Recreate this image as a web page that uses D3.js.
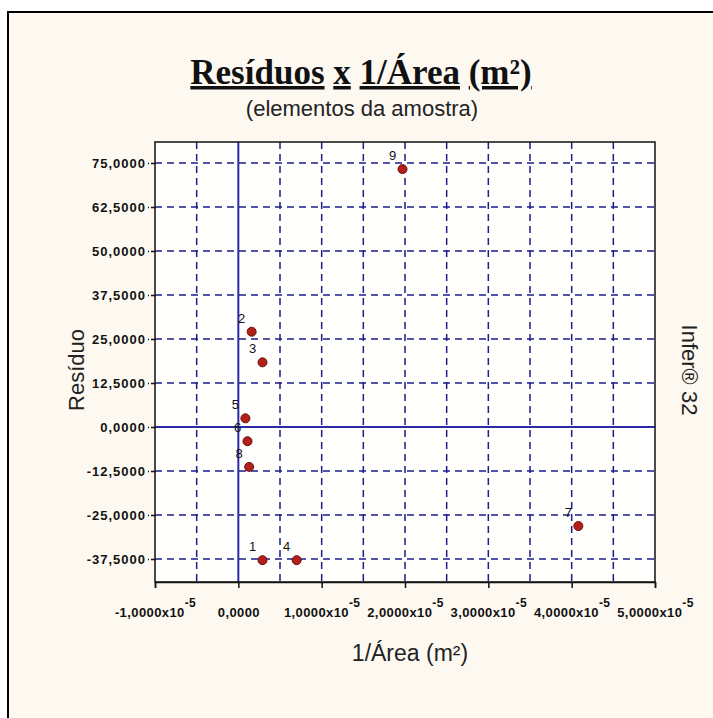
<!DOCTYPE html>
<html>
<head>
<meta charset="utf-8">
<script src="https://cdn.jsdelivr.net/npm/d3@7"></script>
<style>
  body { margin: 0; background: #fff; }
  svg { display: block; }
</style>
</head>
<body>
<div id="viz"></div>
<script>
// sample elements (number, 1/area, residual)
var elementos = [1, 2, 3, 4, 5, 6, 7, 8, 9];
var invArea = [0.29e-5, 0.16e-5, 0.29e-5, 0.70e-5, 0.085e-5, 0.11e-5, 4.08e-5, 0.13e-5, 1.97e-5];
var residuos = [-37.8, 27.1, 18.4, -37.8, 2.5, -4.0, -28.1, -11.3, 73.3];

var yTicks = [-37.5, -25, -12.5, 0, 12.5, 25, 37.5, 50, 62.5, 75];
var xTicks = [-1e-5, 0, 1e-5, 2e-5, 3e-5, 4e-5, 5e-5];
var xGrid = [-0.5e-5, 0, 0.5e-5, 1e-5, 1.5e-5, 2e-5, 2.5e-5, 3e-5, 3.5e-5, 4e-5, 4.5e-5];

var W = 713, H = 718;
var pL = 155, pR = 655, pT = 142, pB = 582;

var svg = d3.select("#viz").append("svg")
  .attr("width", W)
  .attr("height", H);

// outer frame
svg.append("rect")
  .attr("x", 8).attr("y", 12)
  .attr("width", 720).attr("height", 720)
  .attr("fill", "#fdf9f1")
  .attr("stroke", "#000")
  .attr("stroke-width", 2);

var x = d3.scaleLinear().domain([-1e-5, 5e-5]).range([pL, pR]);
var y = d3.scaleLinear().domain([-44, 81]).range([pB, pT]);

// plot area
svg.append("rect")
  .attr("x", pL).attr("y", pT)
  .attr("width", pR - pL).attr("height", pB - pT)
  .attr("fill", "#fffffd");

var navy = "#1c1c8a";

// dashed grid
svg.append("g").selectAll("line")
  .data(yTicks.filter(function(d) { return d !== 0; }))
  .join("line")
  .attr("x1", pL).attr("x2", pR)
  .attr("y1", d => y(d)).attr("y2", d => y(d))
  .attr("stroke", navy)
  .attr("stroke-width", 1.5)
  .attr("stroke-dasharray", "7,5");

svg.append("g").selectAll("line")
  .data(xGrid.filter(function(d) { return d !== 0; }))
  .join("line")
  .attr("x1", d => x(d)).attr("x2", d => x(d))
  .attr("y1", pT).attr("y2", pB)
  .attr("stroke", navy)
  .attr("stroke-width", 1.5)
  .attr("stroke-dasharray", "7,5");

// zero lines
svg.append("line")
  .attr("x1", pL).attr("x2", pR)
  .attr("y1", y(0)).attr("y2", y(0))
  .attr("stroke", "#2a2aa8").attr("stroke-width", 2);
svg.append("line")
  .attr("x1", x(0)).attr("x2", x(0))
  .attr("y1", pT).attr("y2", pB)
  .attr("stroke", "#2a2aa8").attr("stroke-width", 2);

// plot border
svg.append("rect")
  .attr("x", pL).attr("y", pT)
  .attr("width", pR - pL).attr("height", pB - pT)
  .attr("fill", "none")
  .attr("stroke", "#111")
  .attr("stroke-width", 1.5);

function num(v) {
  return d3.format(".4f")(v).replace(".", ",").replace("−", "-");
}

// y axis
var yAxis = svg.append("g")
  .attr("transform", "translate(" + pL + ",0)")
  .call(d3.axisLeft(y).tickValues(yTicks).tickSize(7).tickFormat(num));
yAxis.select(".domain").remove();
yAxis.selectAll(".tick line").attr("stroke", "#111").attr("stroke-width", 1.5).attr("stroke-dasharray", "4,2");
yAxis.selectAll(".tick text")
  .attr("x", -9)
  .style("font-family", "'Liberation Sans', Arial, sans-serif")
  .style("font-size", "13px")
  .style("font-weight", "bold")
  .style("letter-spacing", "1px")
  .attr("fill", "#111");

// x axis
var xAxis = svg.append("g")
  .attr("transform", "translate(0," + pB + ")")
  .call(d3.axisBottom(x).tickValues(xTicks).tickSize(6).tickFormat(""));
xAxis.select(".domain").attr("stroke", "#111").attr("stroke-width", 1.5);
xAxis.selectAll(".tick line").attr("stroke", "#111").attr("stroke-width", 1.5);

xAxis.selectAll(".tick").each(function(d) {
  var t = d3.select(this).append("text")
    .attr("y", 35)
    .attr("fill", "#111")
    .attr("text-anchor", "middle")
    .style("font-family", "'Liberation Sans', Arial, sans-serif")
    .style("font-size", "13px")
    .style("font-weight", "bold")
    .style("letter-spacing", "0.4px");
  if (d === 0) {
    t.text(num(0));
  } else {
    t.append("tspan").text(num(d / 1e-5) + "x10");
    t.append("tspan").attr("dy", -10).style("font-size", "12px").text("-5");
  }
});

// points
svg.append("g").selectAll("circle")
  .data(elementos)
  .join("circle")
  .attr("cx", (d, i) => x(invArea[i]))
  .attr("cy", (d, i) => y(residuos[i]))
  .attr("r", 4.5)
  .attr("fill", "#b3201c")
  .attr("stroke", "#6e0f0c")
  .attr("stroke-width", 1);

svg.append("g").selectAll("text")
  .data(elementos)
  .join("text")
  .attr("x", (d, i) => x(invArea[i]) - 10)
  .attr("y", (d, i) => y(residuos[i]) - 9)
  .attr("text-anchor", "middle")
  .style("font-family", "'Liberation Sans', Arial, sans-serif")
  .style("font-size", "13px")
  .attr("fill", "#111")
  .text(d => d);

// titles
var title = svg.append("text")
  .attr("x", 361).attr("y", 84)
  .attr("text-anchor", "middle")
  .style("font-family", "'Liberation Serif', 'Times New Roman', serif")
  .style("font-size", "35px")
  .style("font-weight", "bold")
  .attr("fill", "#111");
["Resíduos", " ", "x", " ", "1/Área", " ", "(m²)"].forEach(function(w) {
  title.append("tspan")
    .style("text-decoration", w === " " ? "none" : "underline")
    .text(w);
});

svg.append("text")
  .attr("x", 362).attr("y", 116)
  .attr("text-anchor", "middle")
  .style("font-family", "'Liberation Sans', Arial, sans-serif")
  .style("font-size", "22px")
  .attr("fill", "#222")
  .text("(elementos da amostra)");

svg.append("text")
  .attr("x", 410).attr("y", 661)
  .attr("text-anchor", "middle")
  .style("font-family", "'Liberation Sans', Arial, sans-serif")
  .style("font-size", "23px")
  .attr("fill", "#222")
  .text("1/Área (m²)");

svg.append("text")
  .attr("transform", "translate(84,370) rotate(-90)")
  .attr("text-anchor", "middle")
  .style("font-family", "'Liberation Sans', Arial, sans-serif")
  .style("font-size", "22px")
  .attr("fill", "#222")
  .text("Resíduo");

svg.append("text")
  .attr("transform", "translate(682,370) rotate(90)")
  .attr("text-anchor", "middle")
  .style("font-family", "'Liberation Sans', Arial, sans-serif")
  .style("font-size", "22px")
  .attr("fill", "#222")
  .text("Infer® 32");
</script>
</body>
</html>
